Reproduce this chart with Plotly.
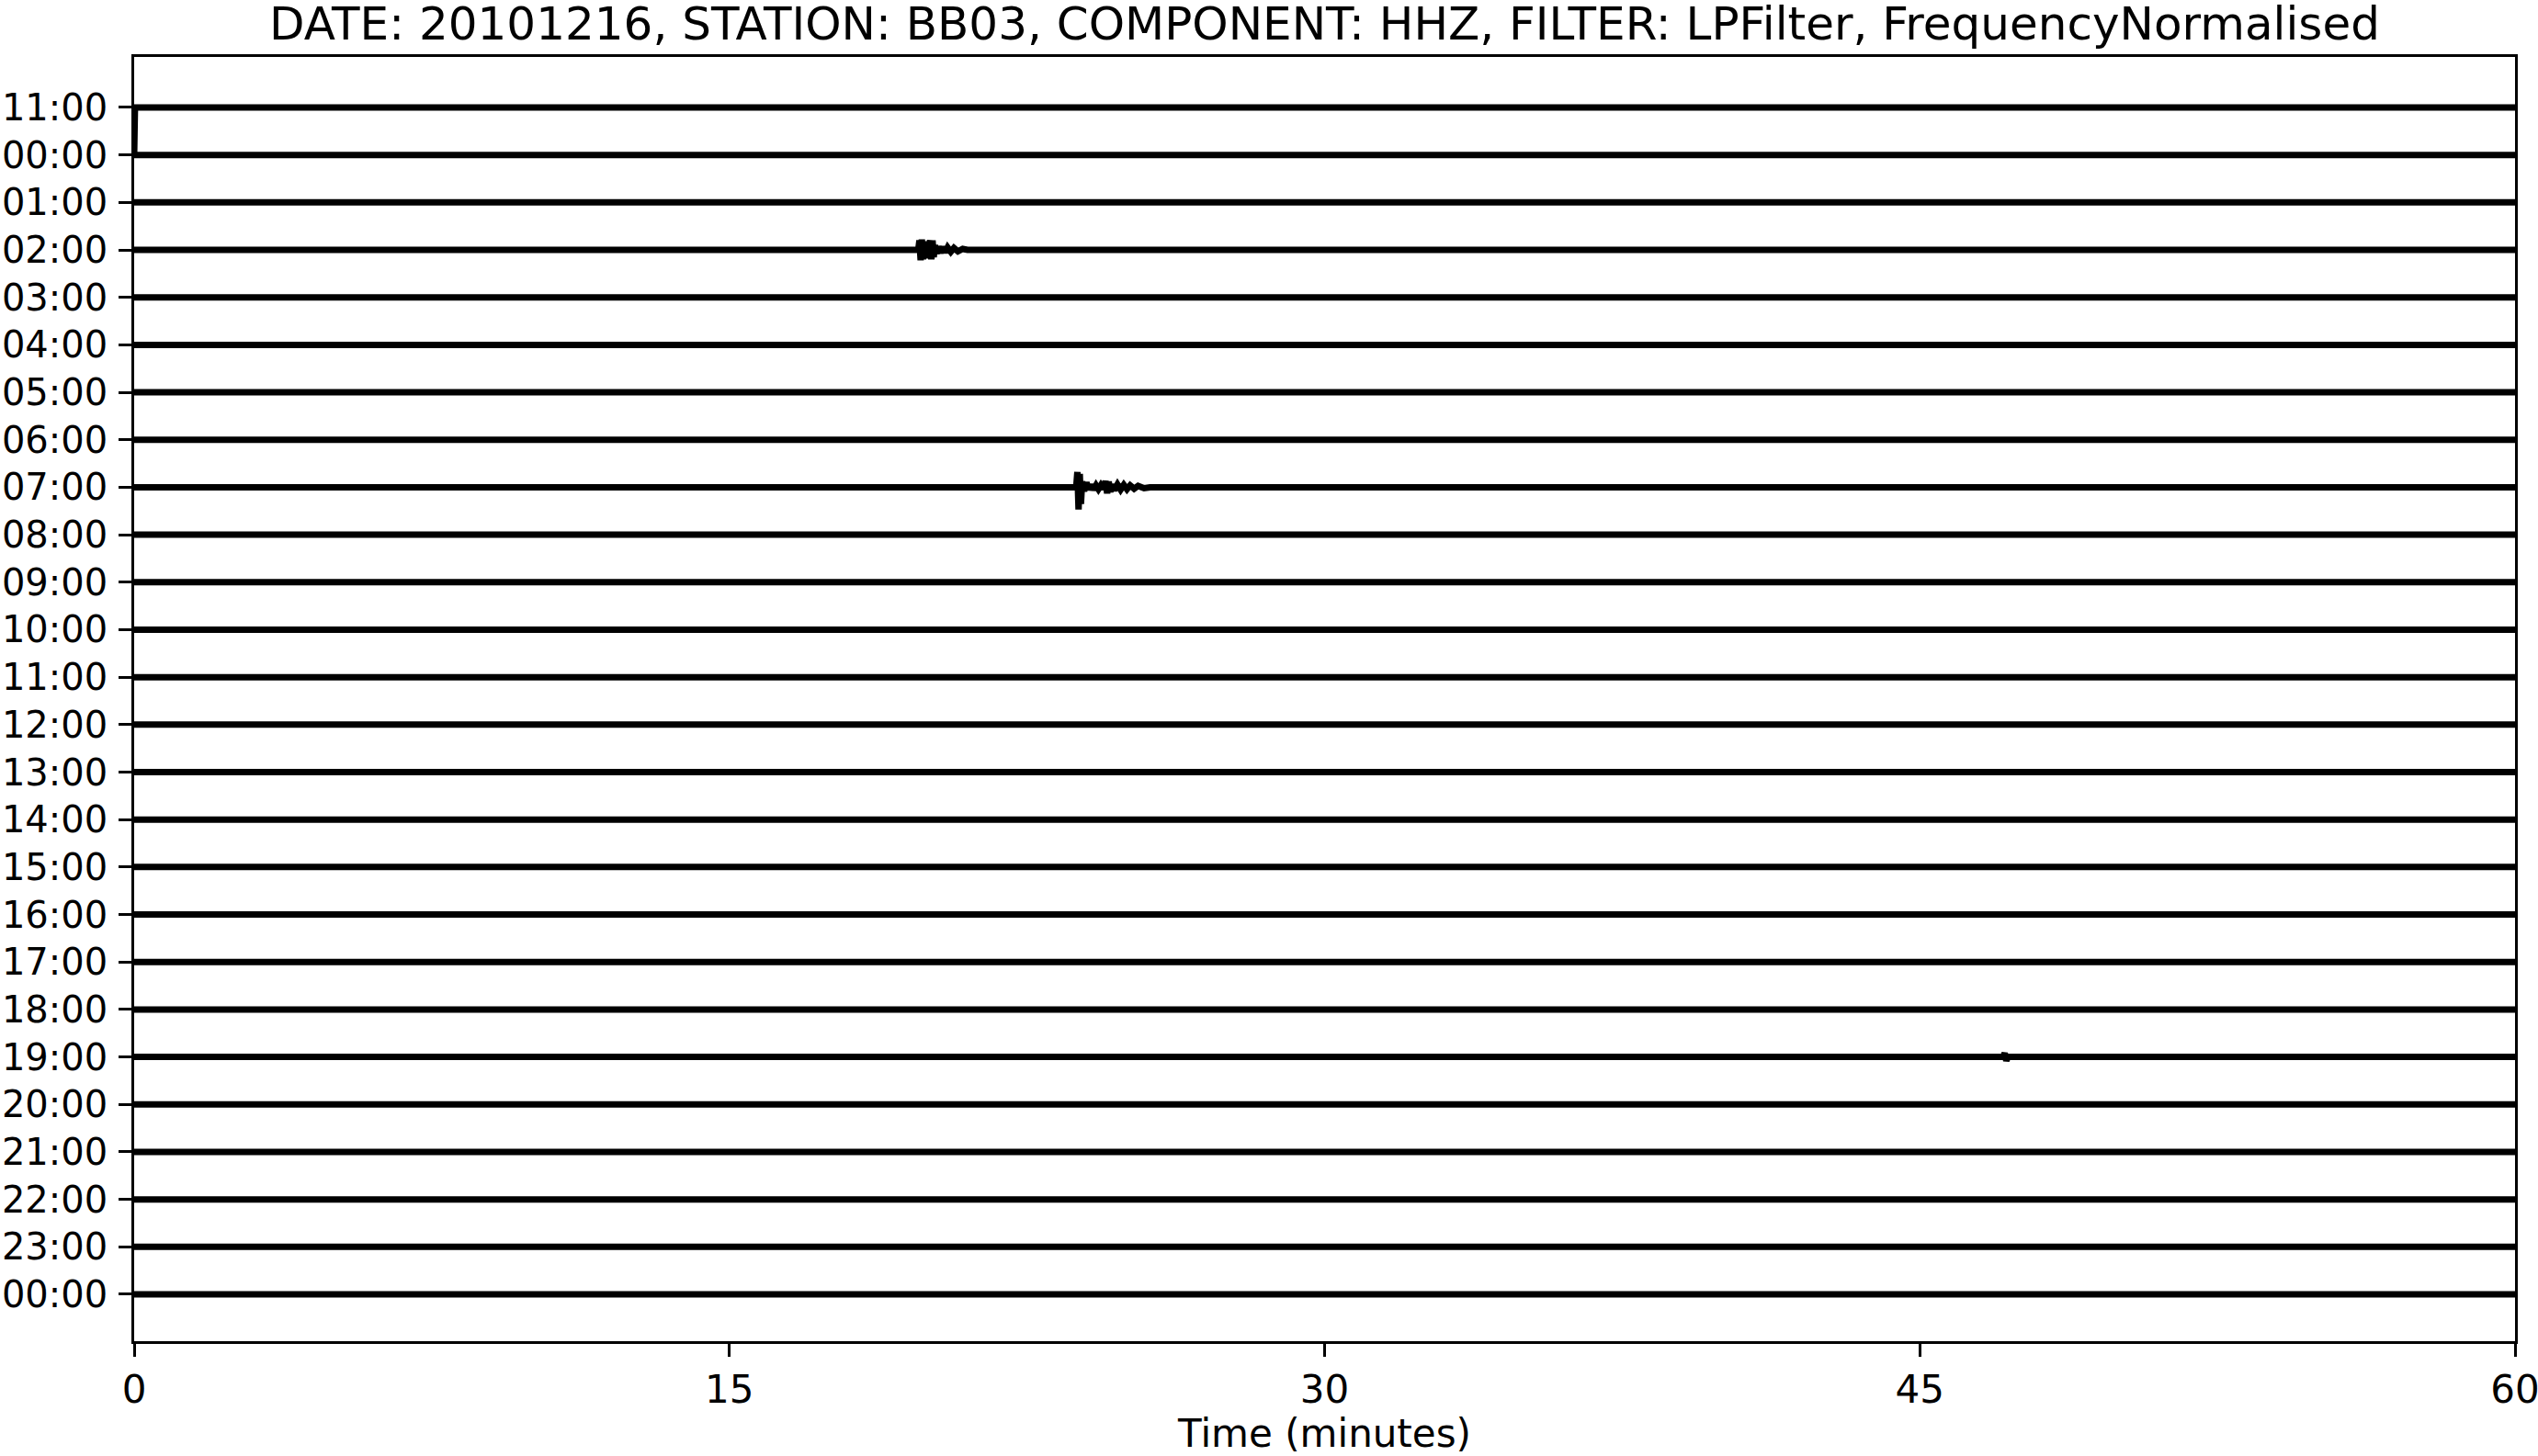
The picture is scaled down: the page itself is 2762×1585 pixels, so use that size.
import plotly.graph_objects as go

# Row labels (top to bottom)
row_labels = ["11:00", "00:00", "01:00", "02:00", "03:00", "04:00", "05:00", "06:00",
              "07:00", "08:00", "09:00", "10:00", "11:00", "12:00", "13:00", "14:00",
              "15:00", "16:00", "17:00", "18:00", "19:00", "20:00", "21:00", "22:00",
              "23:00", "00:00"]

x_ticks = [0, 15, 30, 45, 60]

# Quiet trace span (minutes)
trace_start = 0
trace_end = 60

# Row 0 (11:00): initial step at trace start
row0_t = [0.0, 0.02]
row0_a = [-1.0, 0.0]

# Event at 02:00 (row 3), normalised amplitude
ev02_t = [19.76, 19.79, 19.82, 19.85, 19.88, 19.91, 19.94, 19.97, 20.00, 20.03,
          20.06, 20.09, 20.12, 20.15, 20.18, 20.22, 20.27, 20.32, 20.38, 20.44,
          20.50, 20.58, 20.66, 20.76, 20.88, 21.00]
ev02_a = [0.0, 0.20, -0.22, 0.22, -0.20, 0.18, -0.18, 0.12, -0.08, 0.08,
          0.20, -0.20, 0.20, -0.15, 0.10, -0.08, 0.07, -0.06, 0.06, -0.05,
          0.05, -0.04, 0.04, -0.03, 0.02, 0.0]

# Event at 07:00 (row 8)
ev07_t = [23.74, 23.77, 23.80, 23.83, 23.86, 23.89, 23.94, 24.00, 24.06, 24.12,
          24.18, 24.24, 24.30, 24.36, 24.42, 24.48, 24.52, 24.56, 24.60, 24.64,
          24.70, 24.78, 24.86, 24.94, 25.02, 25.10, 25.20, 25.30, 25.45, 25.60]
ev07_a = [0.0, 0.32, -0.47, 0.28, -0.35, 0.12, -0.08, 0.10, -0.05, 0.05,
          -0.05, 0.04, -0.04, 0.04, -0.04, 0.13, -0.13, 0.12, -0.10, 0.06,
          -0.06, 0.06, -0.05, 0.05, -0.04, 0.04, -0.03, 0.03, -0.02, 0.0]

# Small blip at 19:00 (row 20)
ev19_t = [47.10, 47.14, 47.18, 47.22]
ev19_a = [0.0, 0.08, -0.08, 0.0]

events = {0: (row0_t, row0_a), 3: (ev02_t, ev02_a), 8: (ev07_t, ev07_a), 20: (ev19_t, ev19_a)}

fig = go.Figure()
for i, lab in enumerate(row_labels):
    if i in events:
        et, ea = events[i]
        t = ([trace_start] if et[0] > trace_start else []) + list(et) + [trace_end]
        a = ([0.0] if et[0] > trace_start else []) + list(ea) + [0.0]
    else:
        t = [trace_start, trace_end]
        a = [0.0, 0.0]
    fig.add_trace(go.Scatter(
        x=t, y=[v - i for v in a], mode="lines",
        line=dict(color="black", width=7), showlegend=False, hoverinfo="skip"))

n = len(row_labels)
L, R, T, B = 146, 25, 62, 125
W, H = 2762, 1585
font_fam = "DejaVu Sans, Liberation Sans, sans-serif"
fig.update_layout(
    width=W, height=H,
    margin=dict(l=L, r=R, t=T, b=B, autoexpand=False),
    paper_bgcolor="white", plot_bgcolor="white",
    font=dict(family=font_fam, size=42, color="black"),
    title=dict(text="DATE: 20101216, STATION: BB03, COMPONENT: HHZ, FILTER: LPFilter, FrequencyNormalised",
               x=(L + (W - R)) / 2 / W, xanchor="center", xref="container",
               y=1 - 25 / H, yanchor="middle", yref="container",
               font=dict(size=50, family=font_fam, color="black")),
    xaxis=dict(range=[0, 60], tickvals=x_ticks, ticktext=[str(v) for v in x_ticks],
               showgrid=False, zeroline=False, showline=True, mirror=True,
               linecolor="black", linewidth=2.6, ticks="outside", ticklen=14,
               tickwidth=2.6, tickcolor="black", tickfont=dict(size=42),
               ticklabeloverflow="allow", automargin=False,
               title=dict(text="Time (minutes)", standoff=18, font=dict(size=42))),
    yaxis=dict(range=[-(n - 1) - 0.987, 1.064], tickvals=[-i for i in range(n)],
               ticktext=row_labels, showgrid=False, zeroline=False, showline=True,
               mirror=True, linecolor="black", linewidth=2.6, ticks="outside",
               ticklen=14, tickwidth=2.6, tickcolor="black", tickfont=dict(size=40),
               ticklabeloverflow="allow", ticklabelstandoff=4, automargin=False),
)

fig.write_html("out.html")
